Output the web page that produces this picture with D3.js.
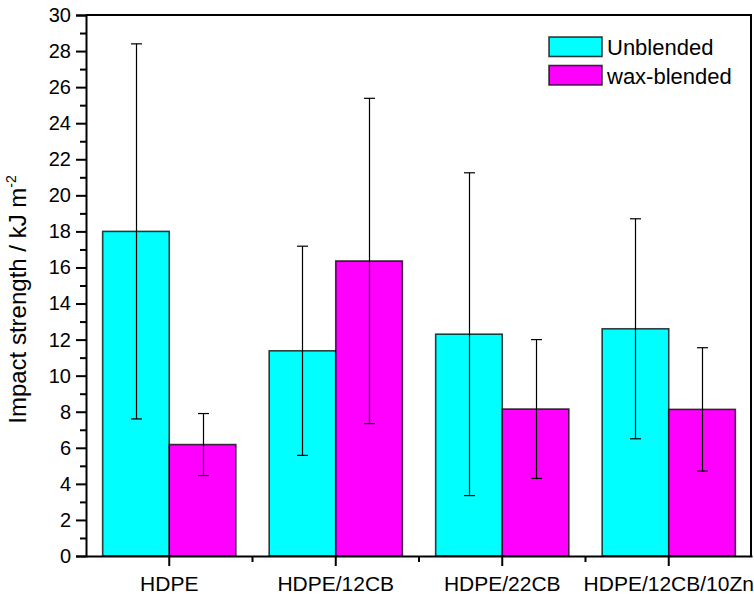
<!DOCTYPE html>
<html>
<head>
<meta charset="utf-8">
<script src="https://cdn.jsdelivr.net/npm/d3@7"></script>
<style>
  body { margin: 0; background: #fff; }
  svg text { font-family: "Liberation Sans", Arial, sans-serif; fill: #000; }
</style>
</head>
<body>
<div id="chart"></div>
<script>
// --- DATA ---
const categories   = ['HDPE', 'HDPE/12CB', 'HDPE/22CB', 'HDPE/12CB/10Zn'];
const unblended    = [18.0, 11.38, 12.3, 12.6];
const unblendedErr = [10.4, 5.8, 8.95, 6.1];
const waxBlended   = [6.18, 16.36, 8.15, 8.13];
const waxErr       = [1.72, 9.02, 3.85, 3.42];
const seriesNames  = ['Unblended', 'wax-blended'];
const seriesColors = ['#00ffff', '#ff00ff'];
const yMajorTicks  = d3.range(0, 31, 2);
const yMinorTicks  = d3.range(1, 30, 2);

// --- LAYOUT ---
const width = 754, height = 594;
const plot = { left: 86, right: 752, top: 15, bottom: 556 };

const svg = d3.select('#chart').append('svg')
  .attr('width', width)
  .attr('height', height);

const x = d3.scaleBand()
  .domain(categories)
  .range([plot.left, plot.right])
  .padding(0);

const y = d3.scaleLinear()
  .domain([0, 30])
  .range([plot.bottom, plot.top]);

const barW = x.bandwidth() * 0.4;

// rows: one per bar
const rows = [];
categories.forEach((c, i) => {
  rows.push({ cat: c, s: 0, v: unblended[i], e: unblendedErr[i] });
  rows.push({ cat: c, s: 1, v: waxBlended[i], e: waxErr[i] });
});
const barX = d => x(d.cat) + x.bandwidth() / 2 + (d.s === 0 ? -barW : 0);

// --- BARS ---
svg.append('g')
  .selectAll('rect')
  .data(rows)
  .enter().append('rect')
    .attr('x', barX)
    .attr('y', d => y(d.v))
    .attr('width', barW)
    .attr('height', d => y(0) - y(d.v))
    .attr('fill', d => seriesColors[d.s])
    .attr('stroke', '#000')
    .attr('stroke-opacity', 0.75)
    .attr('stroke-width', 1.6);

// --- ERROR BARS ---
const eb = svg.append('g').attr('stroke', '#000').attr('stroke-width', 1.2);
rows.forEach(d => {
  const cx = Math.round(barX(d) + barW / 2) + 0.5;
  const y1 = y(d.v + d.e), y2 = y(d.v - d.e);
  eb.append('line').attr('x1', cx).attr('x2', cx).attr('y1', y1).attr('y2', y2);
  eb.append('line').attr('x1', cx - 5.5).attr('x2', cx + 5.5).attr('y1', y1).attr('y2', y1);
  eb.append('line').attr('x1', cx - 5.5).attr('x2', cx + 5.5).attr('y1', y2).attr('y2', y2);
});

// --- AXES ---
const yAxis = svg.append('g')
  .attr('transform', `translate(${plot.left},0)`)
  .call(d3.axisLeft(y).tickValues(yMajorTicks).tickSize(10).tickPadding(5).tickFormat(d3.format('d')));
yAxis.selectAll('text').style('font-size', '20px');

svg.append('g')
  .attr('transform', `translate(${plot.left},0)`)
  .call(d3.axisLeft(y).tickValues(yMinorTicks).tickSize(6).tickFormat(''))
  .select('.domain').remove();

const xAxis = svg.append('g')
  .attr('transform', `translate(0,${plot.bottom})`)
  .call(d3.axisBottom(x).tickSize(10).tickPadding(10).tickSizeOuter(0));
xAxis.selectAll('text').style('font-size', '21px');

// minor x ticks at category boundaries
svg.append('g')
  .selectAll('line')
  .data(categories.slice(1))
  .enter().append('line')
    .attr('x1', d => x(d)).attr('x2', d => x(d))
    .attr('y1', plot.bottom).attr('y2', plot.bottom + 6)
    .attr('stroke', '#000').attr('stroke-width', 2);

svg.selectAll('.domain').attr('stroke-width', 2);
svg.selectAll('.tick line').attr('stroke-width', 2);

// frame
svg.append('path')
  .attr('d', `M${plot.left},${plot.top}H${plot.right - 1}V${plot.bottom}`)
  .attr('fill', 'none')
  .attr('stroke', '#000')
  .attr('stroke-width', 2);

// --- Y TITLE ---
const yt = svg.append('text')
  .attr('transform', `translate(26,${(plot.top + plot.bottom) / 2 + 14}) rotate(-90)`)
  .attr('text-anchor', 'middle')
  .style('font-size', '24px');
yt.append('tspan').text('Impact strength / kJ m');
yt.append('tspan').attr('dy', -10).style('font-size', '14px').text('-2');

// --- LEGEND ---
const legend = svg.append('g').attr('transform', 'translate(549,37)');
seriesNames.forEach((name, i) => {
  const g = legend.append('g').attr('transform', `translate(0,${i * 28.5})`);
  g.append('rect')
    .attr('width', 53).attr('height', 19.5)
    .attr('fill', seriesColors[i])
    .attr('stroke', '#000').attr('stroke-opacity', 0.75).attr('stroke-width', 1.6);
  g.append('text')
    .attr('x', 58).attr('y', 18)
    .style('font-size', '22px')
    .text(name);
});
</script>
</body>
</html>
